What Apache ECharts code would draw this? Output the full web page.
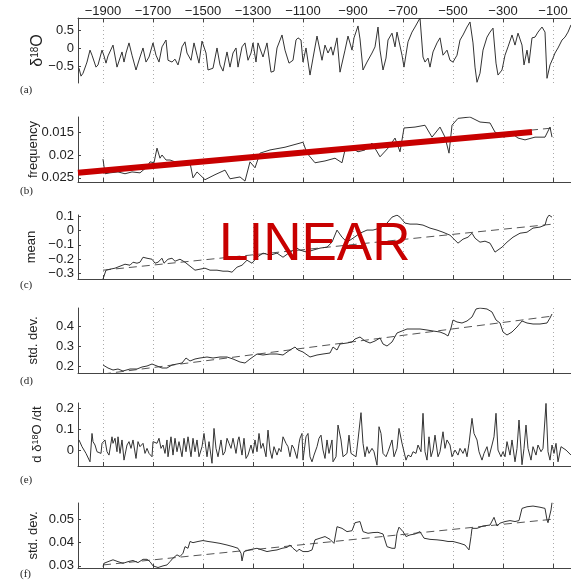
<!DOCTYPE html>
<html>
<head>
<meta charset="utf-8">
<script src="https://cdn.jsdelivr.net/npm/echarts@6/dist/echarts.min.js"></script>
<style>
html, body { margin: 0; padding: 0; background: #fff; }
#chart { width: 571px; height: 582px; }
</style>
</head>
<body>
<div id="chart"></div>
<script>
// shared x ticks (years)
var xTicks = [-1900, -1700, -1500, -1300, -1100, -900, -700, -500, -300, -100];

// (a) delta 18O
var isotope = [[-1996,-0.55],[-1988,-0.77],[-1980,-0.69],[-1968,-0.46],[-1964,-0.38],[-1952,-0.05],[-1944,-0.19],[-1928,-0.52],[-1920,-0.46],[-1904,-0.05],[-1896,-0.21],[-1888,-0.41],[-1880,-0.21],[-1860,0.09],[-1844,-0.52],[-1824,-0.10],[-1816,-0.38],[-1808,-0.13],[-1796,0.15],[-1784,-0.19],[-1768,-0.60],[-1752,-0.24],[-1740,0.01],[-1728,-0.38],[-1716,-0.24],[-1700,0.15],[-1688,-0.19],[-1676,-0.38],[-1664,0.04],[-1648,0.23],[-1640,-0.33],[-1624,-0.38],[-1612,-0.30],[-1600,-0.46],[-1592,-0.24],[-1584,0.04],[-1572,0.18],[-1564,-0.13],[-1548,-0.33],[-1536,0.15],[-1524,-0.19],[-1516,-0.41],[-1504,0.20],[-1488,-0.13],[-1480,-0.60],[-1460,-0.55],[-1444,0.01],[-1432,-0.46],[-1420,-0.63],[-1404,-0.10],[-1392,-0.52],[-1380,-0.13],[-1368,0.01],[-1360,-0.52],[-1344,0.04],[-1332,0.15],[-1320,-0.33],[-1308,-0.13],[-1300,0.15],[-1288,-0.38],[-1280,0.15],[-1260,-0.24],[-1244,0.15],[-1228,-0.66],[-1216,-0.63],[-1204,0.01],[-1184,0.37],[-1172,-0.05],[-1156,-0.41],[-1140,-0.33],[-1128,0.23],[-1120,0.29],[-1108,0.23],[-1100,-0.38],[-1088,0.01],[-1072,-0.74],[-1060,-0.27],[-1044,0.34],[-1024,-0.33],[-1012,0.09],[-1000,-0.13],[-988,0.04],[-980,-0.19],[-964,0.29],[-952,-0.66],[-932,-0.05],[-920,0.34],[-904,-0.05],[-896,0.29],[-880,0.62],[-872,0.26],[-860,-0.60],[-844,-0.38],[-824,-0.13],[-812,0.04],[-800,0.59],[-792,-0.05],[-780,-0.60],[-768,-0.27],[-760,0.23],[-744,0.42],[-732,0.04],[-724,0.45],[-704,-0.19],[-696,-0.52],[-680,0.18],[-664,0.45],[-652,0.59],[-632,0.84],[-620,-0.24],[-612,-0.38],[-600,-0.27],[-592,-0.52],[-580,-0.10],[-564,0.15],[-552,0.29],[-540,-0.19],[-524,-0.05],[-512,-0.33],[-500,-0.38],[-484,-0.19],[-472,0.23],[-460,0.37],[-444,0.59],[-432,0.73],[-420,0.15],[-412,-0.52],[-404,-0.94],[-392,-0.69],[-380,-0.05],[-364,0.31],[-352,0.45],[-340,0.56],[-328,-0.41],[-320,-0.74],[-304,-0.60],[-292,-0.19],[-280,0.04],[-264,0.37],[-252,0.09],[-240,0.42],[-224,0.09],[-216,-0.46],[-204,-0.05],[-196,-0.41],[-184,0.29],[-172,0.31],[-160,0.45],[-144,0.59],[-132,0.45],[-124,-0.83],[-112,-0.46],[-100,-0.27],[-92,-0.13],[-80,0.01],[-64,0.23],[-52,0.31],[-40,0.45],[-28,0.65]];
var isoTicks = [-0.5, 0, 0.5];

// (b) frequency
var freq = [[-1900,0.0209],[-1892,0.0241],[-1872,0.0239],[-1840,0.0237],[-1812,0.0241],[-1784,0.0237],[-1752,0.0239],[-1724,0.0226],[-1712,0.0215],[-1696,0.0217],[-1684,0.0185],[-1672,0.0207],[-1664,0.0200],[-1648,0.0211],[-1632,0.0211],[-1612,0.0215],[-1584,0.0217],[-1552,0.0217],[-1540,0.0250],[-1524,0.0237],[-1492,0.0254],[-1452,0.0243],[-1412,0.0233],[-1392,0.0252],[-1352,0.0248],[-1332,0.0257],[-1312,0.0215],[-1292,0.0228],[-1272,0.0196],[-1232,0.0189],[-1172,0.0183],[-1112,0.0174],[-1100,0.0172],[-1084,0.0196],[-1052,0.0217],[-1012,0.0213],[-972,0.0207],[-944,0.0217],[-932,0.0189],[-904,0.0185],[-880,0.0193],[-852,0.0189],[-824,0.0174],[-792,0.0204],[-760,0.0185],[-732,0.0163],[-712,0.0193],[-696,0.0141],[-652,0.0139],[-612,0.0135],[-584,0.0161],[-552,0.0139],[-532,0.0161],[-516,0.0196],[-504,0.0135],[-480,0.0120],[-432,0.0117],[-392,0.0128],[-352,0.0130],[-332,0.0150],[-292,0.0161],[-272,0.0150],[-240,0.0163],[-212,0.0167],[-172,0.0161],[-132,0.0161],[-112,0.0139],[-104,0.0161]];
var freqTrend = [[-1900,0.0236],[-100,0.0141]];
var freqRed = [[-2000,0.0239],[-184,0.0150]];
var freqTicks = [0.015, 0.02, 0.025];

// (c) running mean
var meanVals = [[-1900,-0.34],[-1888,-0.278],[-1872,-0.271],[-1852,-0.264],[-1832,-0.25],[-1812,-0.236],[-1792,-0.243],[-1780,-0.222],[-1764,-0.229],[-1752,-0.222],[-1740,-0.187],[-1724,-0.194],[-1704,-0.201],[-1692,-0.229],[-1680,-0.222],[-1664,-0.194],[-1656,-0.229],[-1640,-0.201],[-1624,-0.194],[-1612,-0.215],[-1592,-0.201],[-1572,-0.222],[-1552,-0.25],[-1532,-0.278],[-1512,-0.271],[-1492,-0.264],[-1472,-0.278],[-1444,-0.278],[-1420,-0.285],[-1400,-0.285],[-1384,-0.292],[-1364,-0.257],[-1344,-0.243],[-1324,-0.208],[-1304,-0.229],[-1284,-0.187],[-1260,-0.158],[-1232,-0.173],[-1204,-0.158],[-1180,-0.187],[-1152,-0.151],[-1124,-0.123],[-1112,-0.137],[-1084,-0.151],[-1060,-0.137],[-1032,-0.123],[-1004,-0.116],[-984,-0.081],[-964,0.004],[-944,-0.046],[-924,-0.081],[-900,-0.053],[-872,-0.018],[-844,0.004],[-820,0.004],[-792,0.018],[-764,0.053],[-744,0.095],[-724,0.109],[-712,0.095],[-692,0.053],[-672,0.046],[-644,0.046],[-620,0.039],[-592,0.018],[-564,0.004],[-540,-0.011],[-512,-0.032],[-492,-0.067],[-480,-0.088],[-460,-0.06],[-440,-0.046],[-424,-0.018],[-412,-0.053],[-392,-0.081],[-372,-0.074],[-352,-0.088],[-332,-0.151],[-324,-0.158],[-304,-0.116],[-284,-0.081],[-260,-0.046],[-232,-0.018],[-204,-0.011],[-180,0.018],[-152,0.025],[-132,0.039],[-124,0.088],[-116,0.109],[-104,0.095]];
var meanTrend = [[-1900,-0.278],[-100,0.046]];
var meanTicks = [-0.3, -0.2, -0.1, 0, 0.1];

// (d) running std. dev.
var stdVals = [[-1900,0.205],[-1892,0.215],[-1880,0.19],[-1860,0.18],[-1840,0.185],[-1820,0.175],[-1792,0.185],[-1764,0.185],[-1744,0.195],[-1724,0.2],[-1704,0.21],[-1684,0.2],[-1664,0.19],[-1644,0.19],[-1624,0.205],[-1604,0.21],[-1584,0.215],[-1568,0.24],[-1552,0.225],[-1532,0.235],[-1512,0.24],[-1484,0.245],[-1460,0.24],[-1432,0.245],[-1404,0.245],[-1380,0.235],[-1352,0.22],[-1332,0.215],[-1312,0.235],[-1284,0.26],[-1260,0.255],[-1232,0.26],[-1204,0.26],[-1180,0.255],[-1152,0.28],[-1132,0.295],[-1120,0.28],[-1100,0.27],[-1072,0.245],[-1044,0.255],[-1020,0.26],[-992,0.265],[-980,0.295],[-964,0.28],[-952,0.31],[-924,0.315],[-904,0.32],[-892,0.335],[-872,0.345],[-852,0.325],[-832,0.315],[-812,0.325],[-792,0.34],[-780,0.31],[-764,0.3],[-744,0.32],[-724,0.365],[-704,0.375],[-684,0.385],[-660,0.385],[-632,0.385],[-604,0.38],[-580,0.375],[-552,0.37],[-532,0.36],[-520,0.35],[-508,0.39],[-500,0.43],[-484,0.42],[-464,0.415],[-444,0.425],[-424,0.445],[-408,0.485],[-392,0.49],[-364,0.485],[-344,0.47],[-328,0.43],[-312,0.415],[-300,0.37],[-284,0.355],[-264,0.37],[-244,0.395],[-224,0.425],[-204,0.415],[-180,0.41],[-152,0.41],[-124,0.415],[-112,0.44],[-104,0.46]];
var stdTrend = [[-1900,0.16],[-100,0.45]];
var stdTicks = [0.2, 0.3, 0.4];

// (e) d delta18O / dt
var rate = [[-1996,0.048],[-1984,0.016],[-1976,0.0],[-1968,-0.016],[-1960,-0.008],[-1952,-0.056],[-1944,0.079],[-1940,0.04],[-1932,0.024],[-1924,-0.008],[-1916,0.0],[-1908,-0.016],[-1904,0.032],[-1896,0.04],[-1892,0.048],[-1884,-0.008],[-1876,-0.024],[-1864,0.063],[-1860,0.032],[-1852,0.056],[-1844,-0.008],[-1840,0.063],[-1832,-0.016],[-1824,0.048],[-1816,-0.048],[-1804,0.024],[-1796,0.04],[-1788,0.008],[-1780,0.048],[-1768,-0.04],[-1760,0.04],[-1752,0.016],[-1740,0.032],[-1732,-0.016],[-1724,0.008],[-1716,-0.016],[-1704,-0.032],[-1700,0.04],[-1692,0.048],[-1684,0.032],[-1676,0.056],[-1668,0.008],[-1660,0.024],[-1652,-0.016],[-1644,0.048],[-1640,-0.032],[-1628,0.063],[-1620,-0.024],[-1612,0.056],[-1604,-0.008],[-1596,0.04],[-1584,-0.032],[-1576,0.056],[-1568,-0.008],[-1560,0.063],[-1548,-0.032],[-1540,0.056],[-1532,-0.008],[-1524,0.048],[-1516,-0.032],[-1504,0.016],[-1496,0.079],[-1488,0.087],[-1484,-0.032],[-1476,0.04],[-1464,-0.063],[-1456,0.103],[-1448,0.008],[-1440,-0.032],[-1428,0.048],[-1420,-0.024],[-1412,-0.008],[-1404,0.056],[-1396,0.032],[-1388,0.008],[-1380,0.056],[-1368,-0.016],[-1360,0.048],[-1356,0.063],[-1344,-0.024],[-1336,0.056],[-1328,-0.04],[-1320,-0.024],[-1308,0.024],[-1300,-0.016],[-1292,0.048],[-1284,-0.008],[-1276,0.079],[-1268,0.008],[-1260,0.032],[-1248,-0.032],[-1240,0.095],[-1232,0.0],[-1224,-0.04],[-1216,0.016],[-1204,-0.024],[-1196,0.008],[-1188,-0.008],[-1180,0.063],[-1168,0.032],[-1160,0.016],[-1152,-0.032],[-1144,0.024],[-1136,0.008],[-1124,-0.04],[-1116,0.032],[-1112,0.056],[-1104,0.079],[-1100,-0.048],[-1088,0.063],[-1080,0.079],[-1072,-0.032],[-1064,-0.056],[-1056,-0.024],[-1044,0.016],[-1036,0.056],[-1028,0.071],[-1020,0.0],[-1012,-0.04],[-1004,0.048],[-996,-0.016],[-984,0.048],[-980,-0.056],[-968,-0.032],[-960,0.119],[-948,0.048],[-940,-0.032],[-932,-0.04],[-924,-0.016],[-916,0.071],[-908,-0.016],[-900,-0.008],[-888,-0.032],[-880,0.048],[-868,0.178],[-860,0.032],[-852,-0.032],[-844,0.016],[-836,-0.016],[-824,0.008],[-816,-0.008],[-804,-0.072],[-796,0.111],[-788,0.079],[-780,-0.016],[-768,-0.032],[-760,-0.008],[-744,0.048],[-736,-0.032],[-724,0.008],[-716,0.103],[-704,0.032],[-696,0.04],[-688,-0.048],[-680,-0.024],[-668,-0.032],[-660,-0.008],[-648,-0.016],[-640,0.024],[-628,-0.008],[-620,0.175],[-612,-0.008],[-604,-0.048],[-596,0.063],[-588,-0.032],[-580,0.0],[-572,0.071],[-560,-0.032],[-552,-0.008],[-540,0.087],[-532,0.008],[-524,0.048],[-512,0.024],[-504,-0.032],[-492,0.0],[-480,-0.024],[-472,0.008],[-460,-0.016],[-452,0.008],[-444,-0.032],[-436,0.032],[-424,0.151],[-416,0.079],[-404,0.048],[-396,-0.008],[-384,-0.048],[-376,-0.016],[-364,0.016],[-356,-0.032],[-344,0.024],[-336,0.063],[-328,0.175],[-320,0.0],[-308,-0.032],[-300,-0.008],[-292,-0.032],[-284,0.04],[-272,-0.024],[-264,0.048],[-252,-0.056],[-244,0.008],[-236,0.143],[-224,-0.07],[-216,0.008],[-208,0.119],[-200,0.008],[-188,-0.048],[-180,0.016],[-168,-0.024],[-160,0.024],[-148,-0.008],[-140,0.008],[-128,0.222],[-120,-0.008],[-112,-0.048],[-104,0.024],[-96,-0.016],[-88,0.032],[-80,-0.056],[-68,0.016],[-60,0.024],[-48,0.0],[-40,0.008],[-28,-0.024]];
var rateTicks = [0, 0.1, 0.2];

// (f) running std. dev. of the rate
var rateStd = [[-1900,0.0297],[-1896,0.0311],[-1880,0.0318],[-1860,0.0326],[-1840,0.0318],[-1820,0.0311],[-1800,0.0318],[-1780,0.0323],[-1760,0.0314],[-1740,0.0328],[-1724,0.0328],[-1712,0.0318],[-1700,0.03],[-1692,0.0297],[-1680,0.0293],[-1660,0.03],[-1644,0.0304],[-1632,0.0318],[-1620,0.0333],[-1604,0.0347],[-1592,0.034],[-1580,0.0354],[-1572,0.0382],[-1560,0.0375],[-1552,0.0404],[-1540,0.0399],[-1520,0.0404],[-1500,0.0408],[-1480,0.0404],[-1460,0.0401],[-1432,0.0396],[-1404,0.0389],[-1380,0.0382],[-1360,0.0375],[-1348,0.0354],[-1344,0.0321],[-1336,0.0361],[-1324,0.0365],[-1304,0.0371],[-1284,0.0375],[-1264,0.0368],[-1244,0.0361],[-1224,0.0365],[-1204,0.0368],[-1184,0.0375],[-1164,0.0379],[-1152,0.0389],[-1140,0.0375],[-1124,0.0361],[-1116,0.0371],[-1100,0.0361],[-1080,0.0361],[-1064,0.0368],[-1052,0.0411],[-1032,0.0418],[-1012,0.0425],[-992,0.0413],[-976,0.0396],[-964,0.0467],[-944,0.046],[-924,0.0446],[-904,0.045],[-892,0.0484],[-872,0.0489],[-860,0.0446],[-840,0.0439],[-820,0.0442],[-800,0.0443],[-780,0.0436],[-764,0.0382],[-744,0.0375],[-732,0.0375],[-724,0.0439],[-716,0.0465],[-700,0.0446],[-688,0.0425],[-672,0.0432],[-652,0.0436],[-632,0.0446],[-616,0.0418],[-592,0.0413],[-564,0.0411],[-540,0.0408],[-520,0.0404],[-500,0.0404],[-472,0.0396],[-452,0.0389],[-436,0.0368],[-428,0.0425],[-424,0.046],[-404,0.046],[-380,0.047],[-352,0.0474],[-336,0.0507],[-324,0.047],[-312,0.0482],[-292,0.0489],[-272,0.0493],[-252,0.0489],[-236,0.0493],[-224,0.0545],[-204,0.0552],[-180,0.0555],[-152,0.055],[-132,0.0545],[-124,0.0496],[-120,0.0484],[-108,0.0538],[-104,0.057]];
var rateStdTrend = [[-1900,0.0304],[-100,0.0499]];
var rateStdTicks = [0.03, 0.04, 0.05];

var FONT = 'Liberation Sans, Arial, sans-serif';
var INK = '#222';

function minusLabel(v) {
	return String(v).replace('-', '\u2212');
}

// panel layout
var panels = [
	{ key: 'a', top: 18, height: 65, min: -0.96, max: 0.84, ticks: isoTicks, data: isotope,
		name: '{n|\u03b4}{s|18}{n|O}', big: true, gap: 32 },
	{ key: 'b', top: 117, height: 65, min: 0.0117, max: 0.0259, ticks: freqTicks, data: freq,
		name: 'frequency', gap: 38, inverse: true, trend: freqTrend },
	{ key: 'c', top: 215, height: 64, min: -0.34, max: 0.11, ticks: meanTicks, data: meanVals,
		name: 'mean', gap: 40, trend: meanTrend },
	{ key: 'd', top: 308, height: 65, min: 0.165, max: 0.49, ticks: stdTicks, data: stdVals,
		name: 'std. dev.', gap: 38, trend: stdTrend },
	{ key: 'e', top: 403, height: 63, min: -0.076, max: 0.224, ticks: rateTicks, data: rate,
		name: '{n|d \u03b4}{s|18}{n|O /dt}', gap: 34 },
	{ key: 'f', top: 503, height: 65, min: 0.0291, max: 0.0568, ticks: rateStdTicks, data: rateStd,
		name: 'std. dev.', gap: 38, trend: rateStdTrend }
];
var labelTops = [85, 186, 280, 376, 475, 569];

var grids = [], xAxes = [], yAxes = [], series = [], titles = [];

panels.forEach(function(p, i) {
	grids.push({ left: 78, right: 0, top: p.top, height: p.height });

	xAxes.push({
		gridIndex: i,
		type: 'value',
		min: -2000,
		max: -28,
		position: i === 0 ? 'top' : 'bottom',
		axisLine: { show: true, onZero: false, lineStyle: { color: '#444', width: 1 } },
		axisTick: { show: true, inside: true, length: 4, customValues: xTicks,
			lineStyle: { color: '#444' } },
		axisLabel: { show: i === 0, customValues: xTicks, margin: 0, formatter: minusLabel,
			fontFamily: FONT, fontSize: 13, color: INK },
		splitLine: { show: true, lineStyle: { color: '#aaa', type: [1, 3], width: 1 } }
	});

	yAxes.push({
		gridIndex: i,
		type: 'value',
		min: p.min,
		max: p.max,
		inverse: !!p.inverse,
		axisLine: { show: true, onZero: false, lineStyle: { color: '#444', width: 1 } },
		axisTick: { show: true, inside: true, length: 3, customValues: p.ticks,
			lineStyle: { color: '#444' } },
		axisLabel: { customValues: p.ticks, margin: 4, formatter: minusLabel,
			fontFamily: FONT, fontSize: 13, color: INK },
		splitLine: { show: false },
		name: p.name,
		nameLocation: 'middle',
		nameRotate: 90,
		nameGap: p.gap,
		nameMoveOverlap: false,
		nameTextStyle: {
			fontFamily: FONT, fontSize: p.big ? 16 : 13, color: INK,
			rich: {
				n: { fontFamily: FONT, fontSize: p.big ? 16 : 13, color: INK },
				s: { fontFamily: FONT, fontSize: p.big ? 10 : 9, color: INK, verticalAlign: 'top' }
			}
		}
	});

	if (p.trend) {
		series.push({
			type: 'line', xAxisIndex: i, yAxisIndex: i, data: p.trend,
			showSymbol: false, silent: true,
			lineStyle: { color: '#555', width: 1, type: [8, 5] }
		});
	}
	series.push({
		type: 'line', xAxisIndex: i, yAxisIndex: i, data: p.data,
		showSymbol: false, silent: true,
		lineStyle: { color: '#333', width: 1 }
	});

	titles.push({
		text: '(' + p.key + ')', left: 20, top: labelTops[i], padding: 0,
		textStyle: { fontFamily: 'Liberation Serif, serif', fontSize: 11, fontWeight: 'normal', color: INK }
	});
});

// thick red fit line in panel (b)
series.push({
	type: 'line', xAxisIndex: 1, yAxisIndex: 1, data: freqRed,
	showSymbol: false, silent: true, z: 5,
	lineStyle: { color: '#c80000', width: 6, cap: 'butt' }
});

var chart = echarts.init(document.getElementById('chart'));
chart.setOption({
	animation: false,
	backgroundColor: '#fff',
	title: titles,
	grid: grids,
	xAxis: xAxes,
	yAxis: yAxes,
	series: series,
	graphic: [{
		type: 'text', left: 219, top: 219, z: 100,
		style: { text: 'LINEAR', fontFamily: FONT, fontSize: 53, fill: '#c80000' }
	}]
});
</script>
</body>
</html>
